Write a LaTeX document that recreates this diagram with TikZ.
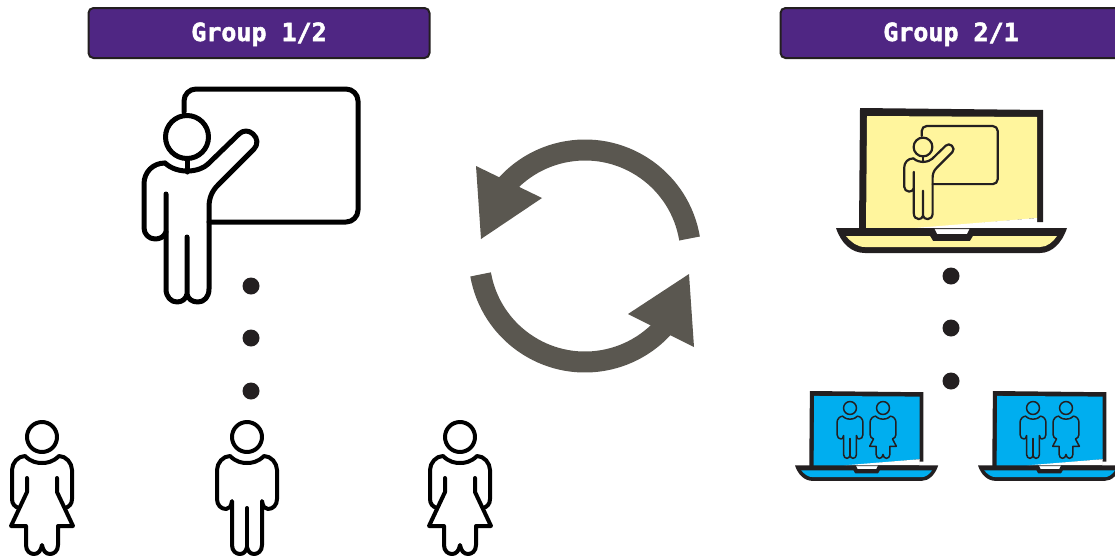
\documentclass[tikz,border=0pt]{standalone}
\usepackage{fontspec}
\newfontfamily\headfont[FakeBold=2]{DejaVu Sans Mono Bold}
\definecolor{headpurple}{HTML}{4F2683}
\definecolor{inkdark}{HTML}{231F20}
\definecolor{arrowgrey}{HTML}{5A5750}
\definecolor{lapyellow}{HTML}{FFF59D}
\definecolor{lapblue}{HTML}{00AEEF}
\tikzset{
  headbox/.style={draw=inkdark,line width=2pt,fill=headpurple,rounded corners=5pt,minimum width=341pt,minimum height=50pt,inner sep=0pt,text=white,font=\headfont\fontsize{25}{25}\selectfont},
  bigdot/.style={circle,fill=inkdark,inner sep=0pt,minimum size=17pt},
  fig/.style={line join=round,line cap=round},
  cyc/.style={draw=arrowgrey,line width=21pt},
}
\newcommand\teacherfig[1]{%
  \draw[fig,rounded corners=#1] (184,112) -- (184,89) -- (358,89) -- (358,222) -- (209,222);
  \draw[fig] (187,137) circle[radius=21.5];
  \draw[fig] (187,159) -- (187,172);
  \draw[fig] (165,163) .. controls (153,163) and (144,172) .. (144,184) -- (144,228)
    .. controls (144,234) and (149,239) .. (155,239) .. controls (160,239) and (164,237) .. (166,232);
  \draw[fig] (166,194) -- (166,289) .. controls (166,297) and (171,302) .. (177,302)
    .. controls (182,302) and (186,299) .. (187,294) -- (187,237) (187,294)
    .. controls (188,299) and (192,302) .. (198,302) .. controls (204,302) and (209,297) .. (209,289)
    -- (209,207) .. controls (209,198) and (212,191) .. (218,185) -- (254,149)
    .. controls (258,145) and (258,138) .. (253,134) .. controls (249,130) and (243,130) .. (239,134)
    -- (208,164) .. controls (200,172) and (178,175) .. (165,163);
}
\newcommand\malefig{%
  \draw[fig] (0,0) circle[radius=15];
  \draw[fig] (-15,64) .. controls (-16,70) and (-18,72) .. (-21,72) .. controls (-26,72) and (-30,68) .. (-30,62)
    -- (-30,33) .. controls (-30,26) and (-24,19) .. (-17,19) .. controls (-11,25) and (-5,26) .. (0,26)
    .. controls (5,26) and (11,25) .. (17,19) .. controls (24,19) and (30,26) .. (30,33) -- (30,62)
    .. controls (30,68) and (26,72) .. (21,72) .. controls (18,72) and (16,70) .. (15,64)
    -- (15,108) .. controls (15,114) and (11,117) .. (7,117) .. controls (3,117) and (1,114) .. (0,110)
    .. controls (-1,114) and (-3,117) .. (-7,117) .. controls (-11,117) and (-15,114) .. (-15,108) -- cycle;
  \draw[fig] (0,71) -- (0,110);
}
\newcommand\femalefig{%
  \draw[fig] (0,0) circle[radius=15];
  \draw[fig] (-23,71) .. controls (-27,70) and (-30,67) .. (-30,62)
    -- (-30,33) .. controls (-30,26) and (-24,19) .. (-17,19) .. controls (-11,25) and (-5,26) .. (0,26)
    .. controls (5,26) and (11,25) .. (17,19) .. controls (24,19) and (30,26) .. (30,33) -- (30,62)
    .. controls (30,67) and (27,70) .. (23,71);
  \draw[fig] (15,41) -- (15,55) -- (31,89) -- (16,89) -- (16,108) .. controls (16,114) and (12,117) .. (8,117)
    .. controls (4,117) and (1,114) .. (0,108) .. controls (-1,114) and (-4,117) .. (-8,117)
    .. controls (-12,117) and (-16,114) .. (-16,108) -- (-16,89) -- (-31,89) -- (-15,55) -- (-15,41);
}
\newcommand\femalebfig{%
  \draw[fig] (0,0) circle[radius=15];
  \draw[fig] (-17,19) .. controls (-11,25) and (-5,26) .. (0,26)
    .. controls (5,26) and (11,25) .. (17,19) .. controls (24,19) and (30,26) .. (30,33) -- (30,62)
    .. controls (30,67) and (27,70) .. (22,72) -- (31,89) -- (16,89) -- (16,108) .. controls (16,114) and (12,117) .. (8,117)
    .. controls (4,117) and (1,114) .. (0,108) .. controls (-1,114) and (-4,117) .. (-8,117)
    .. controls (-12,117) and (-16,114) .. (-16,108) -- (-16,89) -- (-31,89) -- (-22,72)
    .. controls (-27,70) and (-30,67) .. (-30,62) -- (-30,33) .. controls (-30,26) and (-24,19) .. (-17,19) -- cycle;
}
\newcommand\laptopfig[1]{%
  \fill[inkdark] (860,108) -- (1043,110) -- (1043,222) -- (1036,222) -- (1036,229) -- (859,229) -- cycle;
  \fill[#1] (867,116) -- (1037,117) -- (1037,218) -- (915,229) -- (866,229) -- cycle;
  \fill[white] (1037,218) -- (1037,228) -- (915,228) -- cycle;
  \fill[inkdark] (836,228) -- (934,228) -- (937,234) -- (967,234) -- (970,228) -- (1067,228)
    .. controls (1062,243) and (1052,253) .. (1040,253) -- (865,253) .. controls (851,253) and (841,243) .. (836,228) -- cycle;
  \fill[#1] (846,236) -- (930,236) -- (933,241) -- (970,241) -- (973,236) -- (1057,236)
    .. controls (1053,242) and (1047,247) .. (1040,247) -- (865,247) .. controls (857,247) and (851,242) .. (846,236) -- cycle;
}
\newcommand\bluelaptop[1]{%
  \begin{scope}[shift={(#1-836*.62,391-108*.62)},scale=.62]
    \laptopfig{lapblue}
  \end{scope}
  \begin{scope}[shift={(#1+55,408)},scale=.43,line width=1.5pt,draw=inkdark]
    \malefig
  \end{scope}
  \begin{scope}[shift={(#1+88,408)},scale=.43,line width=1.5pt,draw=inkdark]
    \femalebfig
  \end{scope}
}
\begin{document}
\begin{tikzpicture}[x=1pt,y=-1pt]
\useasboundingbox (0,0) rectangle (1115,557);
\clip (0,0) rectangle (1115,557);
\node[headbox,text depth=0pt,text height=0pt] (g1) at (259,33) {\raisebox{-8pt}[0pt][0pt]{Group 1/2}};
\node[headbox,text depth=0pt,text height=0pt] (g2) at (951,33) {\raisebox{-8pt}[0pt][0pt]{Group 2/1}};
\begin{scope}[line width=5pt,draw=black]
  \teacherfig{12pt}
\end{scope}
\node[bigdot] (d1) at (251,286) {};
\node[bigdot] (d2) at (251,338) {};
\node[bigdot] (d3) at (251,391) {};
\node[bigdot] (d4) at (951,276) {};
\node[bigdot] (d5) at (951,328) {};
\node[bigdot] (d6) at (951,381) {};
\begin{scope}[shift={(42,437)},line width=4pt]\femalefig\end{scope}
\begin{scope}[shift={(247,437)},line width=4pt]\malefig\end{scope}
\begin{scope}[shift={(460,437)},line width=4pt]\femalefig\end{scope}
% cycle arrows
\draw[cyc] (585,256) ++(-9.5:106) arc[start angle=-9.5,end angle=-145,radius=106];
\fill[arrowgrey] (476,166) -- (542,198) -- (481,239) -- cycle;
\draw[cyc] (585,256) ++(170:106) arc[start angle=170,end angle=35,radius=106];
\fill[arrowgrey] (689,274) -- (628,314) -- (694,347) -- cycle;
% laptops
\laptopfig{lapyellow}
\begin{scope}[shift={(923-187*.437,147-137*.437)},scale=.437,line width=2.2pt,draw=inkdark]
  \teacherfig{5pt}
\end{scope}
\bluelaptop{795}
\bluelaptop{978}
\end{tikzpicture}
\end{document}
